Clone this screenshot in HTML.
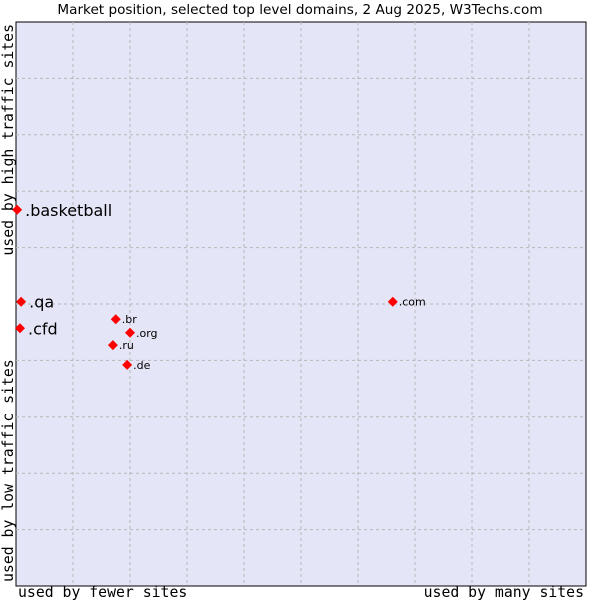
<!DOCTYPE html>
<html><head><meta charset="utf-8"><style>
body{margin:0;background:#fff;width:600px;height:600px;overflow:hidden}
svg text{font-family:"DejaVu Sans","Liberation Sans",sans-serif}
.mono{font-family:"DejaVu Sans Mono","Liberation Mono",monospace}
</style></head><body>
<svg id="chart" width="600" height="600" xmlns="http://www.w3.org/2000/svg">
<text x="300" y="14" text-anchor="middle" font-size="13.6" fill="#000">Market position, selected top level domains, 2 Aug 2025, W3Techs.com</text>
<rect x="16" y="22" width="570" height="564" fill="#e4e5f7" stroke="#000" stroke-width="1"/>
<g id="grid"></g>
<g id="points"></g>
<text class="mono" x="18" y="597" font-size="14.8">used by fewer sites</text>
<text class="mono" x="584" y="597" font-size="14.8" text-anchor="end">used by many sites</text>
<text class="mono" transform="translate(13,582) rotate(-90)" font-size="14.8">used by low traffic sites</text>
<text class="mono" transform="translate(13,24) rotate(-90)" font-size="14.8" text-anchor="end">used by high traffic sites</text>
</svg>
<script>
const domains=[".com",".br",".org",".ru",".de",".basketball",".qa",".cfd"];
const siteShare=[66.1,17.5,20.0,17.0,19.5,0.2,0.9,0.7];
const trafficRank=[50.4,47.3,44.9,42.7,39.2,66.7,50.4,45.7];
const highlighted=[false,false,false,false,false,true,true,true];
const ns="http://www.w3.org/2000/svg";
const X0=16,W=570,Y0=22,H=564;
const sx=v=>X0+v/100*W, sy=v=>Y0+H-v/100*H;
const grid=document.getElementById('grid');
for(let i=1;i<10;i++){
  const l=document.createElementNS(ns,'line');
  
  
  const x=X0+i*W/10;
  l.setAttribute('x1',x);l.setAttribute('x2',x);l.setAttribute('y1',Y0);l.setAttribute('y2',Y0+H);
  l.setAttribute('stroke','#b8b8b8');l.setAttribute('stroke-dasharray','3,3');
  grid.appendChild(l);
  const m=document.createElementNS(ns,'line');
  
  
  const y=Y0+i*H/10;
  m.setAttribute('x1',X0);m.setAttribute('x2',X0+W);m.setAttribute('y1',y);m.setAttribute('y2',y);
  m.setAttribute('stroke','#b8b8b8');m.setAttribute('stroke-dasharray','3,3');
  grid.appendChild(m);
}
const pts=document.getElementById('points');
domains.forEach((d,i)=>{
  const x=sx(siteShare[i]),y=sy(trafficRank[i]);
  const p=document.createElementNS(ns,'polygon');
  
  
  p.setAttribute('points',`${x},${y-5} ${x+5},${y} ${x},${y+5} ${x-5},${y}`);
  p.setAttribute('fill','#f00');
  pts.appendChild(p);
  const t=document.createElementNS(ns,'text');
  
  
  const big=highlighted[i];
  t.setAttribute('x',x+(big?8:6));
  t.setAttribute('y',y+(big?6:4));
  t.setAttribute('font-size',big?16:11);
  t.textContent=d;
  pts.appendChild(t);
});
</script>
</body></html>
